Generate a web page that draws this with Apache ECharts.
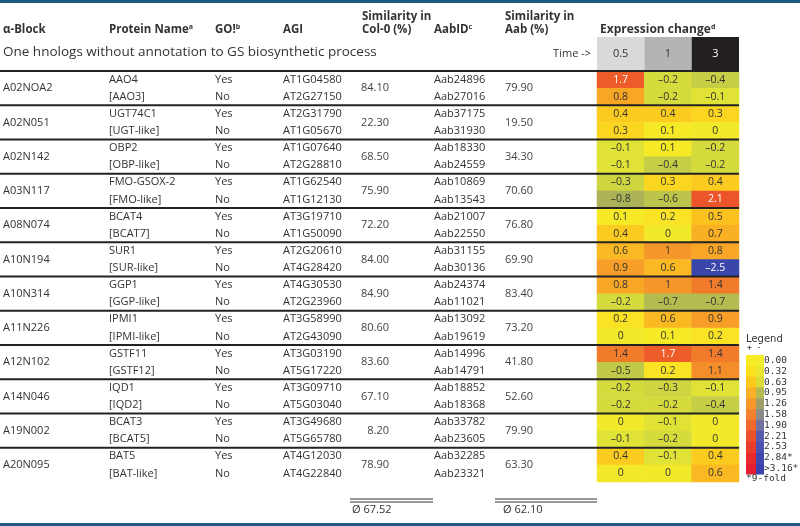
<!DOCTYPE html>
<html><head><meta charset="utf-8">
<script src="https://cdn.jsdelivr.net/npm/echarts@6/dist/echarts.min.js"></script>
<style>html,body{margin:0;padding:0;background:#fff}#c{width:800px;height:526px}</style>
</head><body><div id="c"></div>
<script>
// ---------------- data ----------------
const blocks = ['A02NOA2','A02N051','A02N142','A03N117','A08N074','A10N194','A10N314','A11N226','A12N102','A14N046','A19N002','A20N095'];
const proteins = ['AAO4','[AAO3]','UGT74C1','[UGT-like]','OBP2','[OBP-like]','FMO-GSOX-2','[FMO-like]','BCAT4','[BCAT7]','SUR1','[SUR-like]','GGP1','[GGP-like]','IPMI1','[IPMI-like]','GSTF11','[GSTF12]','IQD1','[IQD2]','BCAT3','[BCAT5]','BAT5','[BAT-like]'];
const goFlags = ['Yes','No','Yes','No','Yes','No','Yes','No','Yes','No','Yes','No','Yes','No','Yes','No','Yes','No','Yes','No','Yes','No','Yes','No'];
const agi = ['AT1G04580','AT2G27150','AT2G31790','AT1G05670','AT1G07640','AT2G28810','AT1G62540','AT1G12130','AT3G19710','AT1G50090','AT2G20610','AT4G28420','AT4G30530','AT2G23960','AT3G58990','AT2G43090','AT3G03190','AT5G17220','AT3G09710','AT5G03040','AT3G49680','AT5G65780','AT4G12030','AT4G22840'];
const simCol0 = ['84.10','22.30','68.50','75.90','72.20','84.00','84.90','80.60','83.60','67.10','8.20','78.90'];
const aabIds = ['Aab24896','Aab27016','Aab37175','Aab31930','Aab18330','Aab24559','Aab10869','Aab13543','Aab21007','Aab22550','Aab31155','Aab30136','Aab24374','Aab11021','Aab13092','Aab19619','Aab14996','Aab14791','Aab18852','Aab18368','Aab33782','Aab23605','Aab32285','Aab23321'];
const simAab = ['79.90','19.50','34.30','70.60','76.80','69.90','83.40','73.20','41.80','52.60','79.90','63.30'];
const times = ['0.5','1','3'];
const expression = [
  [1.7,-0.2,-0.4],[0.8,-0.2,-0.1],
  [0.4,0.4,0.3],[0.3,0.1,0],
  [-0.1,0.1,-0.2],[-0.1,-0.4,-0.2],
  [-0.3,0.3,0.4],[-0.8,-0.6,2.1],
  [0.1,0.2,0.5],[0.4,0,0.7],
  [0.6,1,0.8],[0.9,0.6,-2.5],
  [0.8,1,1.4],[-0.2,-0.7,-0.7],
  [0.2,0.6,0.9],[0,0.1,0.2],
  [1.4,1.7,1.4],[-0.5,0.2,1.1],
  [-0.2,-0.3,-0.1],[-0.2,-0.2,-0.4],
  [0,-0.1,0],[-0.1,-0.2,0],
  [0.4,-0.1,0.4],[0,0,0.6]
];
const avgCol0 = 'Ø 67.52';
const avgAab = 'Ø 62.10';
const legendLabels = ['0.00','0.32','0.63','0.95','1.26','1.58','1.90','2.21','2.53','2.84*','>3.16*'];
const sectionTitle = 'One hnologs without annotation to GS biosynthetic process';

// ---------------- styles ----------------
const FONT = '"Open Sans", "Noto Sans", sans-serif';
const TXT = '#333';
const legendPosColors = ['#f8ec24','#fbe01c','#fbc81c','#f9b024','#f6982a','#f3802c','#f0682b','#ed502a','#ea3c2a','#e82a2c','#e71d33'];
const legendNegColors = ['#f2ed2a','#e8e62e','#dcdc38','#b6b850','#9f9d68','#8b8b8b','#72729f','#585cae','#4a51b2','#4048b0','#3a42ad'];
const anchors = [[-2.5,'#3b46a9'],[-1.6,'#7a7b96'],[-1.0,'#a0a45e'],[-0.8,'#abb257'],[-0.6,'#bcc44b'],[-0.4,'#c6ce45'],[-0.2,'#d5db3c'],[-0.1,'#e1e236'],[0,'#f2e92a'],[0.1,'#f6ea26'],[0.2,'#f9e324'],[0.3,'#fbd620'],[0.4,'#fbcc1f'],[0.5,'#fbc21f'],[0.6,'#fab922'],[0.7,'#f9b024'],[0.8,'#f8a626'],[0.9,'#f69e28'],[1.0,'#f5962a'],[1.1,'#f48e2b'],[1.4,'#f27b2b'],[1.7,'#ee5c2a'],[2.1,'#ec552a'],[2.5,'#e8262d']];
function h2r(h){return [1,3,5].map(k=>parseInt(h.substr(k,2),16));}
function ramp(v){
  for(let k=0;k<anchors.length-1;k++){
    const [a,ca]=anchors[k],[b,cb]=anchors[k+1];
    if(v<=b+1e-9){const t=Math.max(0,(v-a)/(b-a));const A=h2r(ca),B=h2r(cb);
      return 'rgb('+A.map((x,i)=>Math.round(x+(B[i]-x)*t)).join(',')+')';}
  }
  return anchors[anchors.length-1][1];
}
const rampColors=[];for(let k=0;k<=50;k++)rampColors.push(ramp(-2.5+k*0.1));

const cells=[];
expression.forEach((row,i)=>row.forEach((v,j)=>cells.push([j,i,v])));
function fmt(v){return (v<0?'–':'')+String(Math.abs(v));}

const chart = echarts.init(document.getElementById('c'));
chart.setOption({
  animation:false,
  grid:{left:597,top:71,width:142,height:411},
  xAxis:{type:'category',data:times,show:false},
  yAxis:{type:'category',data:proteins,inverse:true,show:false},
  visualMap:{show:false,type:'continuous',min:-2.5,max:2.5,dimension:2,inRange:{color:rampColors}},
  series:[{
    type:'heatmap',data:cells,
    itemStyle:{borderWidth:0},
    emphasis:{disabled:true},
    label:{show:true,fontFamily:FONT,fontSize:10.5,
      formatter:p=>{const v=p.value[2];return (Math.abs(v)>=1.7?'{w|':'{d|')+fmt(v)+'}';},
      rich:{w:{color:'#fff',fontFamily:FONT,fontSize:10.5},d:{color:'#333',fontFamily:FONT,fontSize:10.5}}}
  }]
});

// positions derived from the heatmap axes
const P=(j,i)=>chart.convertToPixel({gridIndex:0},[j,i]);
const rowH=P(0,1)[1]-P(0,0)[1];
const colW=P(1,0)[0]-P(0,0)[0];
const yc=i=>P(0,i)[1];
const xc=j=>P(j,0)[0];
const top0=yc(0)-rowH/2;
const right=xc(2)+colW/2;

const g=[];
function T(x,y,text,o){o=o||{};g.push({type:'text',x:x,y:y,silent:true,z:10,style:{text:text,font:o.font||('11px '+FONT),fill:o.fill||TXT,align:o.align||'left',textAlign:o.align||'left',verticalAlign:'middle',textVerticalAlign:'middle',rich:o.rich}});}
function R(x,y,w,h,fill){g.push({type:'rect',silent:true,z:1,shape:{x:x,y:y,width:w,height:h},style:{fill:fill}});}
function L(x1,y1,x2,y2,w,c){g.push({type:'line',silent:true,z:5,shape:{x1:x1,y1:y1,x2:x2,y2:y2},style:{stroke:c,lineWidth:w}});}

// blue bars
R(0,0,800,3,'#1f5a85');R(0,523,800,3,'#1f5a85');
// headers
const HB='bold 11.5px '+FONT;
const supRich={b:{font:HB,color:TXT},s:{font:'bold 7px '+FONT,color:TXT,padding:[0,0,6,0]}};
T(3,30,'α-Block',{font:HB});
T(109,30,'{b|Protein Name}{s|a}',{rich:supRich});
T(215,30,'{b|GO!}{s|b}',{rich:supRich});
T(283,30,'AGI',{font:HB});
T(362,17,'Similarity in',{font:HB});T(362,30,'Col-0 (%)',{font:HB});
T(434,30,'{b|AabID}{s|c}',{rich:supRich});
T(505,17,'Similarity in',{font:HB});T(505,30,'Aab (%)',{font:HB});
T(600,30,'{b|Expression change}{s|d}',{rich:{b:{font:'bold 12px '+FONT,color:TXT},s:{font:'bold 7px '+FONT,color:TXT,padding:[0,0,6,0]}}});
// section title + time header
T(3,52,sectionTitle,{font:'13.5px '+FONT});
T(591,54,'Time ->',{font:'11px '+FONT,align:'right'});
const timeFill=['#d9d9d9','#b4b4b4','#231f20'];
const timeText=['#333','#333','#fff'];
times.forEach((t,j)=>{R(xc(j)-colW/2,37,colW,top0-37,timeFill[j]);});
times.forEach((t,j)=>{T(xc(j),54,t,{align:'center',fill:timeText[j]});});
// rows
proteins.forEach((p,i)=>{
  const y=yc(i);
  T(109,y,p);T(215,y,goFlags[i]);T(283,y,agi[i]);T(434,y,aabIds[i]);
});
blocks.forEach((b,k)=>{
  const y=(yc(2*k)+yc(2*k+1))/2;
  T(3,y,b);
  T(389,y,simCol0[k],{align:'right',fill:'#444'});
  T(505,y,simAab[k],{fill:'#444'});
});
// separator lines
for(let k=0;k<blocks.length;k++){
  const y=top0+2*k*rowH;
  L(0,y,right,y,2,'#222');
}
// averages
L(350,499,433,499,1,'#333');L(350,502,433,502,1,'#333');
L(495,499,597,499,1,'#333');L(495,502,597,502,1,'#333');
T(352,510,avgCol0);T(503,510,avgAab);
// legend
const LM='9.5px "DejaVu Sans Mono", monospace';
T(746,339,'Legend',{font:'10px "DejaVu Sans", sans-serif'});
T(747,348,'+ -',{font:'8px "DejaVu Sans Mono", monospace'});
const segH=119/legendLabels.length;
legendLabels.forEach((lab,k)=>{
  const y=355+k*segH;
  R(746,y,10,segH+0.5,legendPosColors[k]);
  R(756,y,8,segH+0.5,legendNegColors[k]);
});
legendLabels.forEach((lab,k)=>{T(764,355+(k+0.5)*segH,lab,{font:LM});});
T(746,479,'*9-fold',{font:LM});

chart.setOption({graphic:g});
</script></body></html>
